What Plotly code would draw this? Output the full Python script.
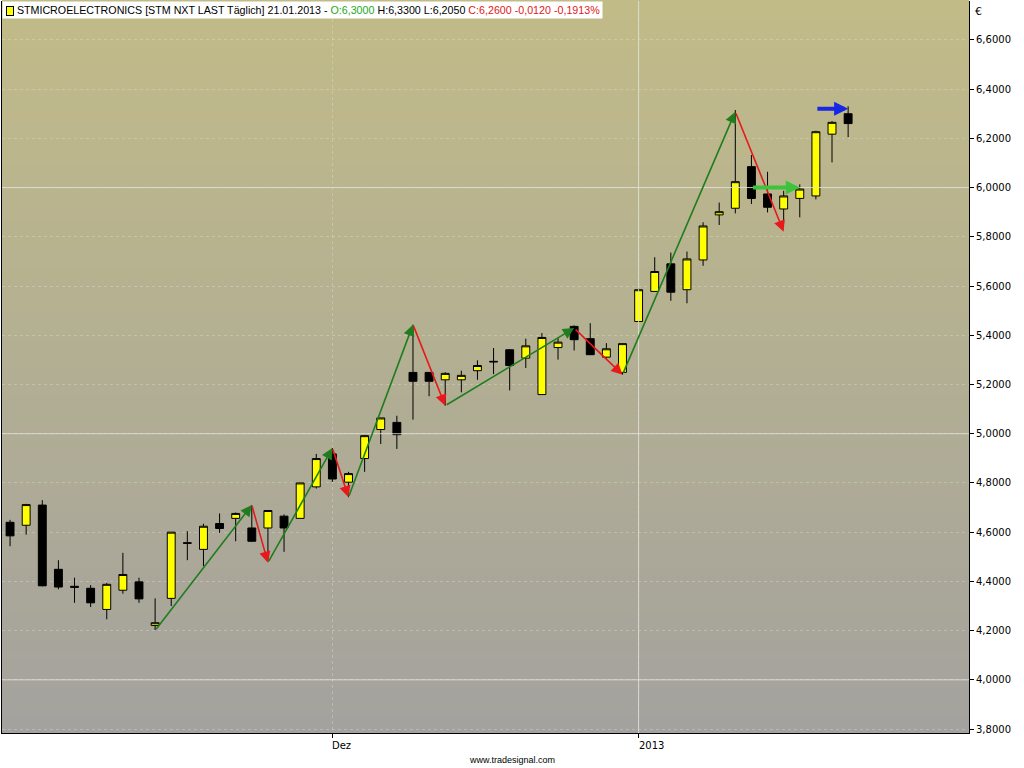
import plotly.graph_objects as go

# daily candles, STM on Euronext (NXT), Nov 2012 - Jan 2013
DATES = [
    "2012-11-05", "2012-11-06", "2012-11-07", "2012-11-08", "2012-11-09",
    "2012-11-12", "2012-11-13", "2012-11-14", "2012-11-15", "2012-11-16",
    "2012-11-19", "2012-11-20", "2012-11-21", "2012-11-22", "2012-11-23",
    "2012-11-26", "2012-11-27", "2012-11-28", "2012-11-29", "2012-11-30",
    "2012-12-03", "2012-12-04", "2012-12-05", "2012-12-06", "2012-12-07",
    "2012-12-10", "2012-12-11", "2012-12-12", "2012-12-13", "2012-12-14",
    "2012-12-17", "2012-12-18", "2012-12-19", "2012-12-20", "2012-12-21",
    "2012-12-24", "2012-12-27", "2012-12-28", "2012-12-31",
    "2013-01-02", "2013-01-03", "2013-01-04", "2013-01-07", "2013-01-08",
    "2013-01-09", "2013-01-10", "2013-01-11", "2013-01-14", "2013-01-15",
    "2013-01-16", "2013-01-17", "2013-01-18", "2013-01-21",
]
OPEN = [
    4.640, 4.628, 4.710, 4.449, 4.380, 4.372, 4.286, 4.364, 4.398, 4.221,
    4.331, 4.557, 4.530, 4.635, 4.656, 4.617, 4.617, 4.665, 4.656, 4.784,
    4.918, 4.803, 4.899, 5.017, 5.046, 5.249, 5.249, 5.219, 5.219, 5.256,
    5.294, 5.341, 5.307, 5.159, 5.350, 5.436, 5.386, 5.311, 5.249,
    5.456, 5.578, 5.690, 5.585, 5.706, 5.889, 5.916, 6.085, 5.974, 5.913,
    5.956, 5.966, 6.217, 6.300,
]
HIGH = [
    4.650, 4.715, 4.730, 4.486, 4.415, 4.385, 4.394, 4.516, 4.415, 4.331,
    4.600, 4.604, 4.634, 4.676, 4.680, 4.710, 4.688, 4.672, 4.800, 4.918,
    4.942, 4.845, 4.995, 5.064, 5.073, 5.443, 5.249, 5.250, 5.256, 5.298,
    5.348, 5.344, 5.386, 5.409, 5.388, 5.440, 5.449, 5.368, 5.366,
    5.591, 5.717, 5.736, 5.740, 5.859, 5.939, 6.315, 6.132, 6.064, 5.987,
    6.013, 6.231, 6.270, 6.330,
]
LOW = [
    4.543, 4.590, 4.380, 4.368, 4.313, 4.296, 4.246, 4.350, 4.313, 4.202,
    4.300, 4.486, 4.462, 4.597, 4.563, 4.560, 4.480, 4.520, 4.656, 4.777,
    4.804, 4.742, 4.845, 4.958, 4.938, 5.057, 5.152, 5.114, 5.168, 5.219,
    5.242, 5.176, 5.267, 5.159, 5.301, 5.338, 5.321, 5.305, 5.240,
    5.456, 5.578, 5.540, 5.530, 5.682, 5.848, 5.895, 5.933, 5.899, 5.855,
    5.879, 5.952, 6.102, 6.205,
]
CLOSE = [
    4.585, 4.712, 4.382, 4.377, 4.376, 4.313, 4.388, 4.428, 4.329, 4.232,
    4.600, 4.555, 4.624, 4.615, 4.676, 4.563, 4.688, 4.617, 4.800, 4.899,
    4.816, 4.838, 4.992, 5.064, 4.996, 5.213, 5.213, 5.245, 5.237, 5.277,
    5.292, 5.277, 5.357, 5.391, 5.372, 5.382, 5.321, 5.345, 5.366,
    5.585, 5.659, 5.575, 5.710, 5.844, 5.902, 6.024, 5.956, 5.920, 5.966,
    5.994, 6.227, 6.265, 6.260,
]

# zigzag swing points (tail -> head alternates up / down)
SWING_DATES = [
    "2012-11-16", "2012-11-26", "2012-11-27", "2012-12-03", "2012-12-04",
    "2012-12-10", "2012-12-12", "2012-12-24", "2012-12-31", "2013-01-10",
    "2013-01-15",
]
SWING_PRICES = [4.200, 4.710, 4.476, 4.942, 4.742, 5.443, 5.114, 5.429, 5.240, 6.308, 5.821]

SIDEWAYS_DATES = ["2013-01-11", "2013-01-16"]
SIDEWAYS_PRICE = 6.0
LAST_DATES = ["2013-01-17", "2013-01-21"]
LAST_PRICE = 6.32

MONTH_TICKS = ["2012-12-03", "2013-01-02"]
MONTH_LABELS = ["Dez", "2013"]
MAJOR_LEVELS = [4.0, 5.0, 6.0]

UP_GREEN = "#1f7d1f"
DOWN_RED = "#e8191c"
FLAT_GREEN = "#3cc43c"
BLUE = "#1428e6"
FONT = "DejaVu Sans"

pos = {d: i for i, d in enumerate(DATES)}
x = [pos[d] for d in DATES]

fig = go.Figure()
fig.add_trace(
    go.Candlestick(
        x=x,
        open=OPEN,
        high=HIGH,
        low=LOW,
        close=CLOSE,
        text=DATES,
        increasing=dict(fillcolor="#ffff00", line=dict(color="black", width=1)),
        decreasing=dict(fillcolor="black", line=dict(color="black", width=1)),
        whiskerwidth=0,
        showlegend=False,
    )
)

# vertical gradient background (khaki at top to grey at bottom)
top_rgb = (193, 187, 136)
bot_rgb = (164, 162, 158)
n_bands = 80
for i in range(n_bands):
    t = i / (n_bands - 1)
    c = [round(b + (a - b) * t) for a, b in zip(top_rgb, bot_rgb)]
    fig.add_shape(
        type="rect", xref="paper", yref="paper",
        x0=0, x1=1, y0=i / n_bands, y1=(i + 1) / n_bands + 0.002,
        fillcolor=f"rgb({c[0]},{c[1]},{c[2]})", line_width=0, layer="below",
    )

for lvl in MAJOR_LEVELS:
    fig.add_hline(y=lvl, line=dict(color="rgba(222,228,214,0.85)", width=1))
fig.add_vline(x=pos[MONTH_TICKS[1]], line=dict(color="rgba(222,228,214,0.85)", width=1))

# arrows
for i in range(len(SWING_DATES) - 1):
    p0, p1 = SWING_PRICES[i], SWING_PRICES[i + 1]
    fig.add_annotation(
        x=pos[SWING_DATES[i + 1]], y=p1, ax=pos[SWING_DATES[i]], ay=p0,
        xref="x", yref="y", axref="x", ayref="y", text="",
        showarrow=True, arrowhead=2, arrowsize=1.4, arrowwidth=1.6,
        arrowcolor=UP_GREEN if p1 > p0 else DOWN_RED,
    )
fig.add_annotation(
    x=pos[SIDEWAYS_DATES[1]], y=SIDEWAYS_PRICE, ax=pos[SIDEWAYS_DATES[0]], ay=SIDEWAYS_PRICE,
    xref="x", yref="y", axref="x", ayref="y", text="",
    showarrow=True, arrowhead=2, arrowsize=0.7, arrowwidth=4, arrowcolor=FLAT_GREEN,
)
fig.add_annotation(
    x=pos[LAST_DATES[1]], y=LAST_PRICE, ax=pos[LAST_DATES[0]], ay=LAST_PRICE,
    xref="x", yref="y", axref="x", ayref="y", text="",
    showarrow=True, arrowhead=2, arrowsize=0.7, arrowwidth=4, arrowcolor=BLUE,
)

# header line
title = (
    "STMICROELECTRONICS [STM NXT LAST Täglich] 21.01.2013 - "
    "<span style='color:#22a822'>O:6,3000</span> H:6,3300 L:6,2050 "
    "<span style='color:#e01818'>C:6,2600 -0,0120 -0,1913%</span>"
)
fig.add_annotation(
    xref="paper", yref="paper", x=0, y=1, xanchor="left", yanchor="top",
    text="&nbsp;&nbsp;&nbsp;&nbsp;" + title, showarrow=False, bgcolor="white",
    font=dict(family="Liberation Sans", size=10.7, color="black"), borderpad=2,
)
fig.add_annotation(
    xref="paper", yref="paper", x=0, y=1, xanchor="left", yanchor="top",
    xshift=4, yshift=-5, text="", width=4, height=6, showarrow=False,
    bgcolor="#ffff00", bordercolor="black", borderwidth=1,
)
fig.add_annotation(
    xref="paper", yref="paper", x=1, y=1, xanchor="left", yanchor="top",
    xshift=4, yshift=-2, text="€", showarrow=False,
    font=dict(family=FONT, size=11, color="black"),
)
for d, lab in zip(MONTH_TICKS, MONTH_LABELS):
    fig.add_annotation(
        xref="x", yref="paper", x=pos[d], y=0, xanchor="left", yanchor="top",
        yshift=-5, xshift=-2, text=lab, showarrow=False,
        font=dict(family=FONT, size=10, color="black"),
    )
fig.add_annotation(
    xref="paper", yref="paper", x=0.527, y=0, xanchor="center", yanchor="middle",
    yshift=-27, text="www.tradesignal.com", showarrow=False,
    font=dict(family="Liberation Sans", size=9, color="black"),
)

fig.update_layout(
    width=1024,
    height=768,
    margin=dict(l=2, r=55, t=1, b=35),
    paper_bgcolor="white",
    plot_bgcolor="rgb(178,174,148)",
    separators=",.",
    font=dict(family=FONT, size=10, color="black"),
    showlegend=False,
    hovermode=False,
)
fig.update_xaxes(
    range=[-0.5, 59.5],
    rangeslider_visible=False,
    tickvals=[pos[d] for d in MONTH_TICKS],
    ticktext=MONTH_LABELS,
    showticklabels=False,
    ticks="outside", ticklen=4, tickcolor="black",
    showgrid=True, gridcolor="rgba(225,228,215,0.35)", griddash="dot",
    showline=True, linecolor="black", linewidth=1,
    zeroline=False, fixedrange=True,
)
fig.update_yaxes(
    side="right",
    range=[3.784, 6.758],
    tick0=3.8, dtick=0.2,
    tickformat=".4f",
    ticks="outside", ticklen=4, tickcolor="black",
    showgrid=True, gridcolor="rgba(225,228,215,0.35)", griddash="dot",
    showline=True, mirror=True, linecolor="black", linewidth=1,
    zeroline=False, fixedrange=True,
)

fig.write_html(
    "out.html",
    config={"displayModeBar": False},
    post_script="document.body.style.margin = '0'; document.body.style.overflow = 'hidden';",
)
